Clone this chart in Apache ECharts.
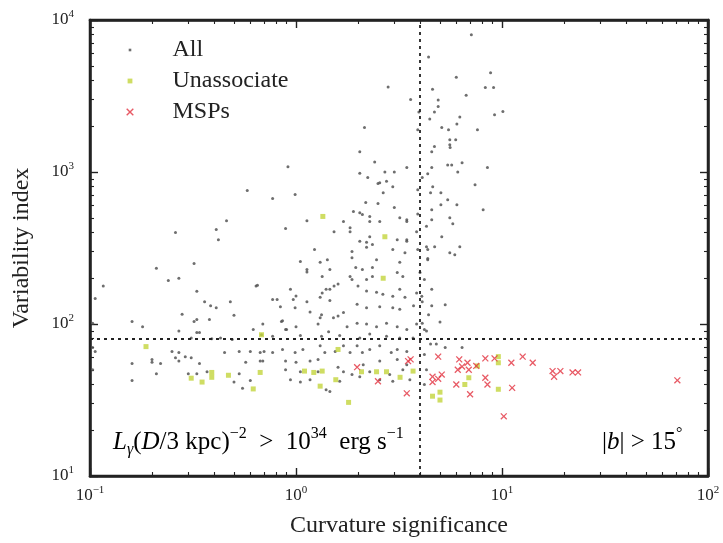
<!DOCTYPE html>
<html>
<head>
<meta charset="utf-8">
<script src="https://cdn.jsdelivr.net/npm/echarts@6/dist/echarts.min.js"></script>
<style>html,body{margin:0;padding:0;background:#fff;}#c{width:723px;height:543px;}</style>
</head>
<body>
<div id="c"></div>
<script>
// ---- axis ranges ----
const xRange = [0.1, 100];
const yRange = [10, 10000];
const minorPerDecade = 9;
const thresholds = {curvature: 4, variability: 80};

// ---- series names ----
const seriesNames = ['All', 'Unassociate', 'MSPs'];

// ---- All sources [curvature significance, variability index] ----
const allPoints = [
[7.1,8000],[4.4,5700],[6.0,4200],[8.8,4500],[8.3,3600],[9.1,3600],[4.6,3500],[6.7,3200],[3.6,3000],[4.9,2980],
[4.9,2700],[10.1,2500],[4.7,2480],[4.46,2230],[6.24,2300],[6.04,2070],[5.1,1960],[5.5,1900],[7.6,1900],[5.58,1630],
[5.96,1630],[5.58,1510],[5.6,1450],[4.7,1470],[4.56,1360],[3.45,1070],[4.56,1070],[5.45,1110],[5.7,1110],[6.4,1150],
[8.5,1070],[6.1,1000],[4.36,975],[4.1,920],[4.61,800],[4.5,730],[5.05,730],[7.4,825],[5.45,657],[4.56,565],
[4.56,486],[5.05,610],[6.04,610],[8.1,565],[5.58,500],[5.77,457],[3.45,486],[3.19,500],[3.45,359],[5.1,375],
[4.71,322],[4.36,309],[6.24,322],[5.9,285],[5.58,294],[4.36,270],[3.38,294],[4.2,196],[4.56,169],[4.56,132],
[3.72,132],[3.38,150],[9.2,2380],[4.08,152],
[2.8,3630],[2.15,1960],[2.04,1360],[2.41,1165],[0.914,1083],[3.0,1000],[2.7,1000],[2.04,980],[2.23,920],[2.5,840],
[2.75,870],[2.95,800],[2.55,850],[2.18,630],[2.5,620],[2.65,730],[3.0,583],[1.9,550],[1.13,478],[1.7,472],
[2.28,509],[2.28,472],[2.1,525],[2.55,472],[3.45,472],[1.53,405],[1.83,405],[2.28,375],[3.1,359],[3.45,350],
[2.04,350],[2.2,345],[2.35,333],[1.23,309],[1.87,300],[2.2,320],[2.95,309],[1.42,265],[1.31,255],[1.87,273],
[2.46,265],[3.19,255],[1.13,228],[1.95,235],[2.1,228],[2.35,235],[1.83,205],[1.87,196],[2.2,196],[2.35,205],
[1.46,228],[1.34,205],[3.1,218],[3.3,205],[1.53,178],[1.4,169],[2.0,178],[2.2,165],[2.46,162],[1.31,150],
[1.13,140],[2.64,157],[2.95,152],[3.19,169],
[3.9,765],[3.9,530],[3.85,405],[3.9,309],[4.0,218],[3.85,160],[4.1,140],[4.3,440],[4.3,322],[4.36,265],
[3.95,2480],[3.9,1900],
[0.58,755],[0.77,670],[0.99,710],[0.46,477],[0.42,359],[0.26,400],[0.41,418],[0.32,250],[0.21,233],[0.27,200],
[0.24,193],[0.33,164],[0.106,147],[0.116,178],[0.36,140],[0.385,132],[0.41,128],[0.64,178],[0.48,140],[0.5,114],
[0.28,116],[0.33,107],[0.32,104],[0.16,104],[0.18,96],[0.77,145],[1.05,258],[1.13,220],[0.85,104],[0.9,92],
[0.94,169],[1.0,153],[0.27,90],[0.31,81],[0.33,88],[0.39,80],[0.43,81],[0.49,79],[0.62,92],[0.68,85],
[0.89,425],[0.65,180],[0.81,145],[0.97,145],[1.17,120],[1.31,110],[1.52,110],[1.34,160],[1.46,169],[1.6,183],
[0.86,105],[1.83,430],[2.04,540],[0.103,101],
[1.33,115],[1.6,113],[1.7,119],[1.46,143],[1.98,135],[2.2,128],[2.55,130],[2.95,128],[3.19,125],[0.99,128],
[0.84,130],[0.89,92],[0.69,100],[1.0,96],[1.28,100],[1.44,89],[1.77,96],[1.98,101],[2.2,100],[2.46,96],
[2.75,101],[3.1,96],[3.45,92],[3.85,100],[4.1,101],
[1.33,83],[1.63,84],[2.04,81],[2.28,86],[2.75,83],[3.19,81],[3.7,81],[1.05,84],[0.77,83],
[0.7,66],[0.77,65],[0.86,68],[0.89,57],[0.99,65],[1.08,68],[1.31,72],[1.38,65],[1.55,66],[1.7,72],
[1.83,65],[1.98,72],[2.1,65],[2.28,68],[2.55,72],[2.9,65],[3.1,68],[3.45,66],[0.69,57],[1.0,56],
[1.17,57],[1.28,58.5],[1.6,52],[2.12,54],[2.55,57],[3.1,58.5],[3.45,54],[0.89,50],[1.05,48.5],[1.28,48.5],
[1.7,48.5],[1.87,46.5],[2.28,48.5],[2.85,46.5],[3.3,50],[0.94,43],[1.17,43],[1.63,42],[2.04,45],[2.55,43],
[2.95,42],[3.57,43],[1.4,37],[1.46,36],[1.05,41.5],
[0.103,70],[0.106,66],[0.25,66],[0.27,65],[0.29,61],[0.31,60],[0.45,65],[0.53,66],[0.6,66],[0.67,65],
[0.2,58.5],[0.2,56],[0.26,60],[0.27,57],[0.57,56],[0.16,55],[0.22,55],[0.34,55],[0.67,57],[0.103,50],
[0.21,47],[0.3,47],[0.33,47],[0.37,48.5],[0.53,47],[0.16,42.5],[0.6,42.5],[0.5,41.5],[0.55,37.8],[0.38,107],
[0.34,88],
[4.2,63],[4.5,74],[4.8,74],[6.4,70],[4.3,50],[4.2,40],[5.3,70],[4.2,92],[5.0,103],[4.4,115],
[5.3,134],[4.3,90]
];

// ---- Unassociated sources ----
const unassocPoints = [
[1.35,510],[2.7,375],[2.65,200],[0.187,71],[0.68,85],[0.31,44],[0.35,41.5],[0.39,44.6],[0.39,48],[0.47,46],
[0.67,48],[0.62,37.4],[1.6,68],[1.1,49],[1.22,48],[1.34,49],[1.31,39],[1.8,30.5],[1.56,43],[2.08,48.5],
[2.46,48.5],[2.75,48.5],[3.2,44.6],[3.7,49],[4.6,33.5],[5.0,35.6],[5.0,31.6],[7.6,53],[9.6,61],[9.6,55.6],
[9.6,37.2],[6.6,40],[6.9,44.3]
];

// ---- MSPs ----
const mspPoints = [
[4.9,61],[4.6,45],[4.9,43.6],[5.1,46.5],[4.6,41.5],[6.1,50],[6.4,52.5],[6.8,55.6],[6.9,50],[6.0,40],
[7.0,34.5],[8.3,59.4],[9.2,59.4],[8.3,44.3],[8.5,40],[11.1,55.6],[12.6,61],[14.1,55.6],[11.2,38],[10.2,24.7],
[17.6,49],[17.9,45],[19.2,49],[22,48],[23.4,48],[71,42.6],[3.6,58.5],[3.45,35],[3.5,57],[1.98,52],
[2.5,42],[6.2,58.5],[7.5,53]
];

const SERIF = '"Liberation Serif", "DejaVu Serif", serif';
const INK = '#222';
const X_PATH = 'path://M0,0 M10,10 M1.2,2.2 L2.2,1.2 L5,4 L7.8,1.2 L8.8,2.2 L6,5 L8.8,7.8 L7.8,8.8 L5,6 L2.2,8.8 L1.2,7.8 L4,5 Z';
const DOT_PATH = 'path://M0,0 M10,10 M3.7,3.7 L6.3,3.7 L6.3,6.3 L3.7,6.3 Z';
const SQ_PATH = 'path://M0,0 M10,10 M2.6,2.6 L7.4,2.6 L7.4,7.4 L2.6,7.4 Z';

function powLabel(v) {
  const e = Math.round(Math.log10(v));
  return '{b|10}{e|' + String(e).replace('-', '\u2212') + '}';
}
const labelRich = {
  b: {fontFamily: SERIF, fontSize: 17, color: INK, lineHeight: 22},
  e: {fontFamily: SERIF, fontSize: 11, color: INK, lineHeight: 11, verticalAlign: 'top'}
};
const majorTick = {show: true, inside: true, length: 8, lineStyle: {color: INK, width: 1.4}};
const minorTick = {show: true, splitNumber: minorPerDecade, length: 4, lineStyle: {color: INK, width: 1.1}};

const annRich = {
  n: {fontFamily: SERIF, fontSize: 25, color: INK, lineHeight: 32},
  i: {fontFamily: SERIF, fontSize: 25, fontStyle: 'italic', color: INK, lineHeight: 32},
  sup: {fontFamily: SERIF, fontSize: 16, color: INK, lineHeight: 16, verticalAlign: 'top'},
  sub: {fontFamily: SERIF, fontSize: 16, fontStyle: 'italic', color: INK, lineHeight: 16, verticalAlign: 'bottom'}
};

function logAxis(range, position, extra) {
  return Object.assign({
    type: 'log', logBase: 10, min: range[0], max: range[1], position: position,
    axisLine: {show: true, onZero: false, lineStyle: {color: INK, width: 2.5}},
    axisTick: majorTick, minorTick: minorTick,
    splitLine: {show: false}, minorSplitLine: {show: false}, axisLabel: {show: false}
  }, extra || {});
}

const chart = echarts.init(document.getElementById('c'), null, {renderer: 'canvas'});
chart.setOption({
  animation: false,
  backgroundColor: '#fff',
  grid: {left: 90, right: 15, top: 20, bottom: 66, show: true, borderColor: INK, borderWidth: 2.5, backgroundColor: 'transparent'},
  legend: {
    left: 125, top: 38, orient: 'vertical', padding: 0,
    itemWidth: 75, itemHeight: 10, itemGap: 7,
    textStyle: {fontFamily: SERIF, fontSize: 24, color: INK},
    data: [
      {name: seriesNames[0], icon: DOT_PATH},
      {name: seriesNames[1], icon: SQ_PATH},
      {name: seriesNames[2], icon: X_PATH}
    ]
  },
  xAxis: [
    logAxis(xRange, 'bottom', {
      name: 'Curvature significance', nameLocation: 'middle', nameGap: 38,
      nameTextStyle: {fontFamily: SERIF, fontSize: 24, color: INK},
      axisLabel: {show: true, margin: 9, formatter: powLabel, rich: labelRich}}),
    logAxis(xRange, 'top')
  ],
  yAxis: [
    logAxis(yRange, 'left', {
      name: 'Variability index', nameLocation: 'middle', nameGap: 56,
      nameTextStyle: {fontFamily: SERIF, fontSize: 24, color: INK},
      axisLabel: {show: true, margin: 16, formatter: powLabel, rich: labelRich}}),
    logAxis(yRange, 'right')
  ],
  series: [
    {name: seriesNames[0], type: 'scatter', data: allPoints, symbol: 'circle', symbolSize: 3,
     itemStyle: {color: '#555', opacity: 0.85}, z: 2,
     markLine: {silent: true, symbol: 'none', animation: false,
       lineStyle: {color: INK, type: [3, 4], width: 1.8}, label: {show: false},
       data: [{xAxis: thresholds.curvature}, {yAxis: thresholds.variability}]}},
    {name: seriesNames[1], type: 'scatter', data: unassocPoints, symbol: 'rect', symbolSize: 5,
     itemStyle: {color: '#c3d53c'}, z: 3},
    {name: seriesNames[2], type: 'scatter', data: mspPoints, symbol: X_PATH, symbolSize: 9,
     itemStyle: {color: '#e2313f'}, z: 4}
  ],
  graphic: [
    {type: 'text', left: 113, top: 426, z: 10, silent: true,
     style: {text: '{i|L}{sub|\u03b3}{n|(}{i|D}{n|/3 kpc)}{sup|\u22122}{n|\u2002>\u200210}{sup|34}{n|\u2002erg s}{sup|\u22121}', rich: annRich}},
    {type: 'text', left: 602, top: 426, z: 10, silent: true,
     style: {text: '{n||}{i|b}{n|| > 15}{sup|\u00b0}', rich: annRich}}
  ]
});
</script>
</body>
</html>
